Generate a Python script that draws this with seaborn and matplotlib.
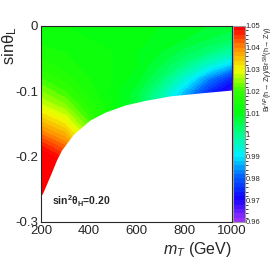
import numpy as np
import matplotlib
matplotlib.use("Agg")
import matplotlib.pyplot as plt
import matplotlib.ticker as mticker
import matplotlib.colors as mcolors
import seaborn as sns

# grid (nodes)
mT = [200, 300, 400, 500, 600, 700, 800, 900, 1000]
sinL = [0.0, -0.02, -0.04, -0.06, -0.08, -0.10, -0.12, -0.14, -0.16,
        -0.18, -0.20, -0.22, -0.24, -0.26, -0.28, -0.30]
ratio = [
    [1.012, 1.012, 1.012, 1.011, 1.011, 1.010, 1.009, 1.008, 1.007],
    [1.013, 1.013, 1.012, 1.011, 1.011, 1.009, 1.008, 1.006, 1.004],
    [1.015, 1.014, 1.013, 1.012, 1.010, 1.008, 1.005, 1.002, 0.998],
    [1.017, 1.015, 1.013, 1.012, 1.010, 1.006, 1.001, 0.994, 0.987],
    [1.020, 1.017, 1.014, 1.012, 1.009, 1.003, 0.994, 0.983, 0.974],
    [1.024, 1.020, 1.015, 1.011, 1.007, 0.999, 0.987, 0.975, 0.966],
    [1.028, 1.024, 1.017, 1.012, 1.006, 0.996, 0.983, 0.971, 0.962],
    [1.034, 1.029, 1.020, 1.013, 1.006, 0.995, 0.982, 0.970, 0.961],
    [1.040, 1.035, 1.024, 1.014, 1.006, 0.995, 0.982, 0.970, 0.961],
    [1.047, 1.041, 1.028, 1.015, 1.006, 0.995, 0.982, 0.970, 0.961],
    [1.053, 1.047, 1.032, 1.016, 1.006, 0.995, 0.982, 0.970, 0.961],
    [1.059, 1.053, 1.036, 1.017, 1.006, 0.995, 0.982, 0.970, 0.961],
    [1.065, 1.059, 1.040, 1.018, 1.006, 0.995, 0.982, 0.970, 0.961],
    [1.071, 1.065, 1.044, 1.019, 1.006, 0.995, 0.982, 0.970, 0.961],
    [1.077, 1.071, 1.048, 1.020, 1.006, 0.995, 0.982, 0.970, 0.961],
    [1.081, 1.075, 1.052, 1.021, 1.006, 0.995, 0.982, 0.970, 0.961],
]

# lower edge of the allowed region
edge_mT = [200, 203, 209, 245, 265, 286, 335, 405, 468, 551, 635, 740, 879, 1000]
edge_sinL = [-0.258, -0.258, -0.254, -0.223, -0.205, -0.190, -0.166, -0.144,
             -0.132, -0.121, -0.114, -0.107, -0.102, -0.098]

cbar_ticks = [0.96, 0.97, 0.98, 0.99, 1.00, 1.01, 1.02, 1.03, 1.04, 1.05]

sns.set_style("ticks")
plt.rcParams['font.family'] = ['Liberation Sans', 'DejaVu Sans']
plt.rcParams['mathtext.fontset'] = 'custom'
plt.rcParams['mathtext.rm'] = 'Liberation Sans'
plt.rcParams['mathtext.it'] = 'Liberation Sans:italic'
plt.rcParams['mathtext.bf'] = 'Liberation Sans:bold'

# ROOT-like rainbow palette, one colour per 0.01 step from 0.96 to 1.05
cmap = sns.blend_palette(["#9a30ff", "#1000ff", "#0060ff", "#00f0ff", "#00ff90",
                          "#00ff10", "#30ff00", "#f0ff00", "#ff9000", "#ff0000"],
                         n_colors=256, as_cmap=True)
cmap.set_over("#ff0000")
cmap.set_under("#9a30ff")

fig = plt.figure(figsize=(2.76, 2.62), dpi=100)
ax = fig.add_axes([0.1486, 0.1527, 0.6920, 0.7481])
cax = fig.add_axes([0.8442, 0.1527, 0.0435, 0.7481])

levels = np.linspace(0.96, 1.05, 46)
cs = ax.contourf(mT, sinL, np.array(ratio), levels=levels, cmap=cmap, extend='both')
ax.fill_between(edge_mT, -0.3, edge_sinL, color='white', lw=0, zorder=3)

ax.set_xlim(200, 1000)
ax.set_ylim(-0.3, 0)
ax.xaxis.set_major_locator(mticker.MultipleLocator(200))
ax.xaxis.set_minor_locator(mticker.MultipleLocator(50))
ax.yaxis.set_major_locator(mticker.MultipleLocator(0.1))
ax.yaxis.set_minor_locator(mticker.MultipleLocator(0.02))
ax.yaxis.set_major_formatter(mticker.FuncFormatter(lambda v, p: "%g" % round(v, 3)))
ax.tick_params(which='both', direction='in', top=True, right=True, labelsize=9.5,
               width=0.6, pad=2, zorder=5)
ax.tick_params(which='major', length=4)
ax.tick_params(which='minor', length=2)
for s in ax.spines.values():
    s.set_linewidth(0.8)
    s.set_zorder(6)

ax.set_xlabel("$m_T$ (GeV)", fontsize=11.5, loc='right', labelpad=2)
fig.text(10 / 276, 1 - 26 / 262, "sin\u03b8$_\\mathregular{L}$", fontsize=12,
         rotation=90, ha='center', va='top')
ax.text(0.055, 0.085, "sin$^\\mathregular{2}$\u03b8$_\\mathregular{H}$=0.20",
        transform=ax.transAxes, fontsize=7.5, fontweight='bold', zorder=7)

sm = plt.cm.ScalarMappable(norm=mcolors.BoundaryNorm(levels, cmap.N), cmap=cmap)
cb = fig.colorbar(sm, cax=cax, ticks=cbar_ticks)
cb.outline.set_edgecolor('#999999')
cb.outline.set_linewidth(0.8)
cax.yaxis.set_major_formatter(mticker.FuncFormatter(lambda v, p: "%g" % round(v, 3)))
cax.tick_params(direction='in', length=2, width=0.5, labelsize=5.5, pad=0.5)
fig.text(0.997, 0.90, "Br$^{NP}$(h\u2192 Z\u03b3)/Br$^{SM}$(h\u2192 Z\u03b3)",
         rotation=90, fontsize=5.2, ha='right', va='top')

fig.savefig("out.png", dpi=100)
